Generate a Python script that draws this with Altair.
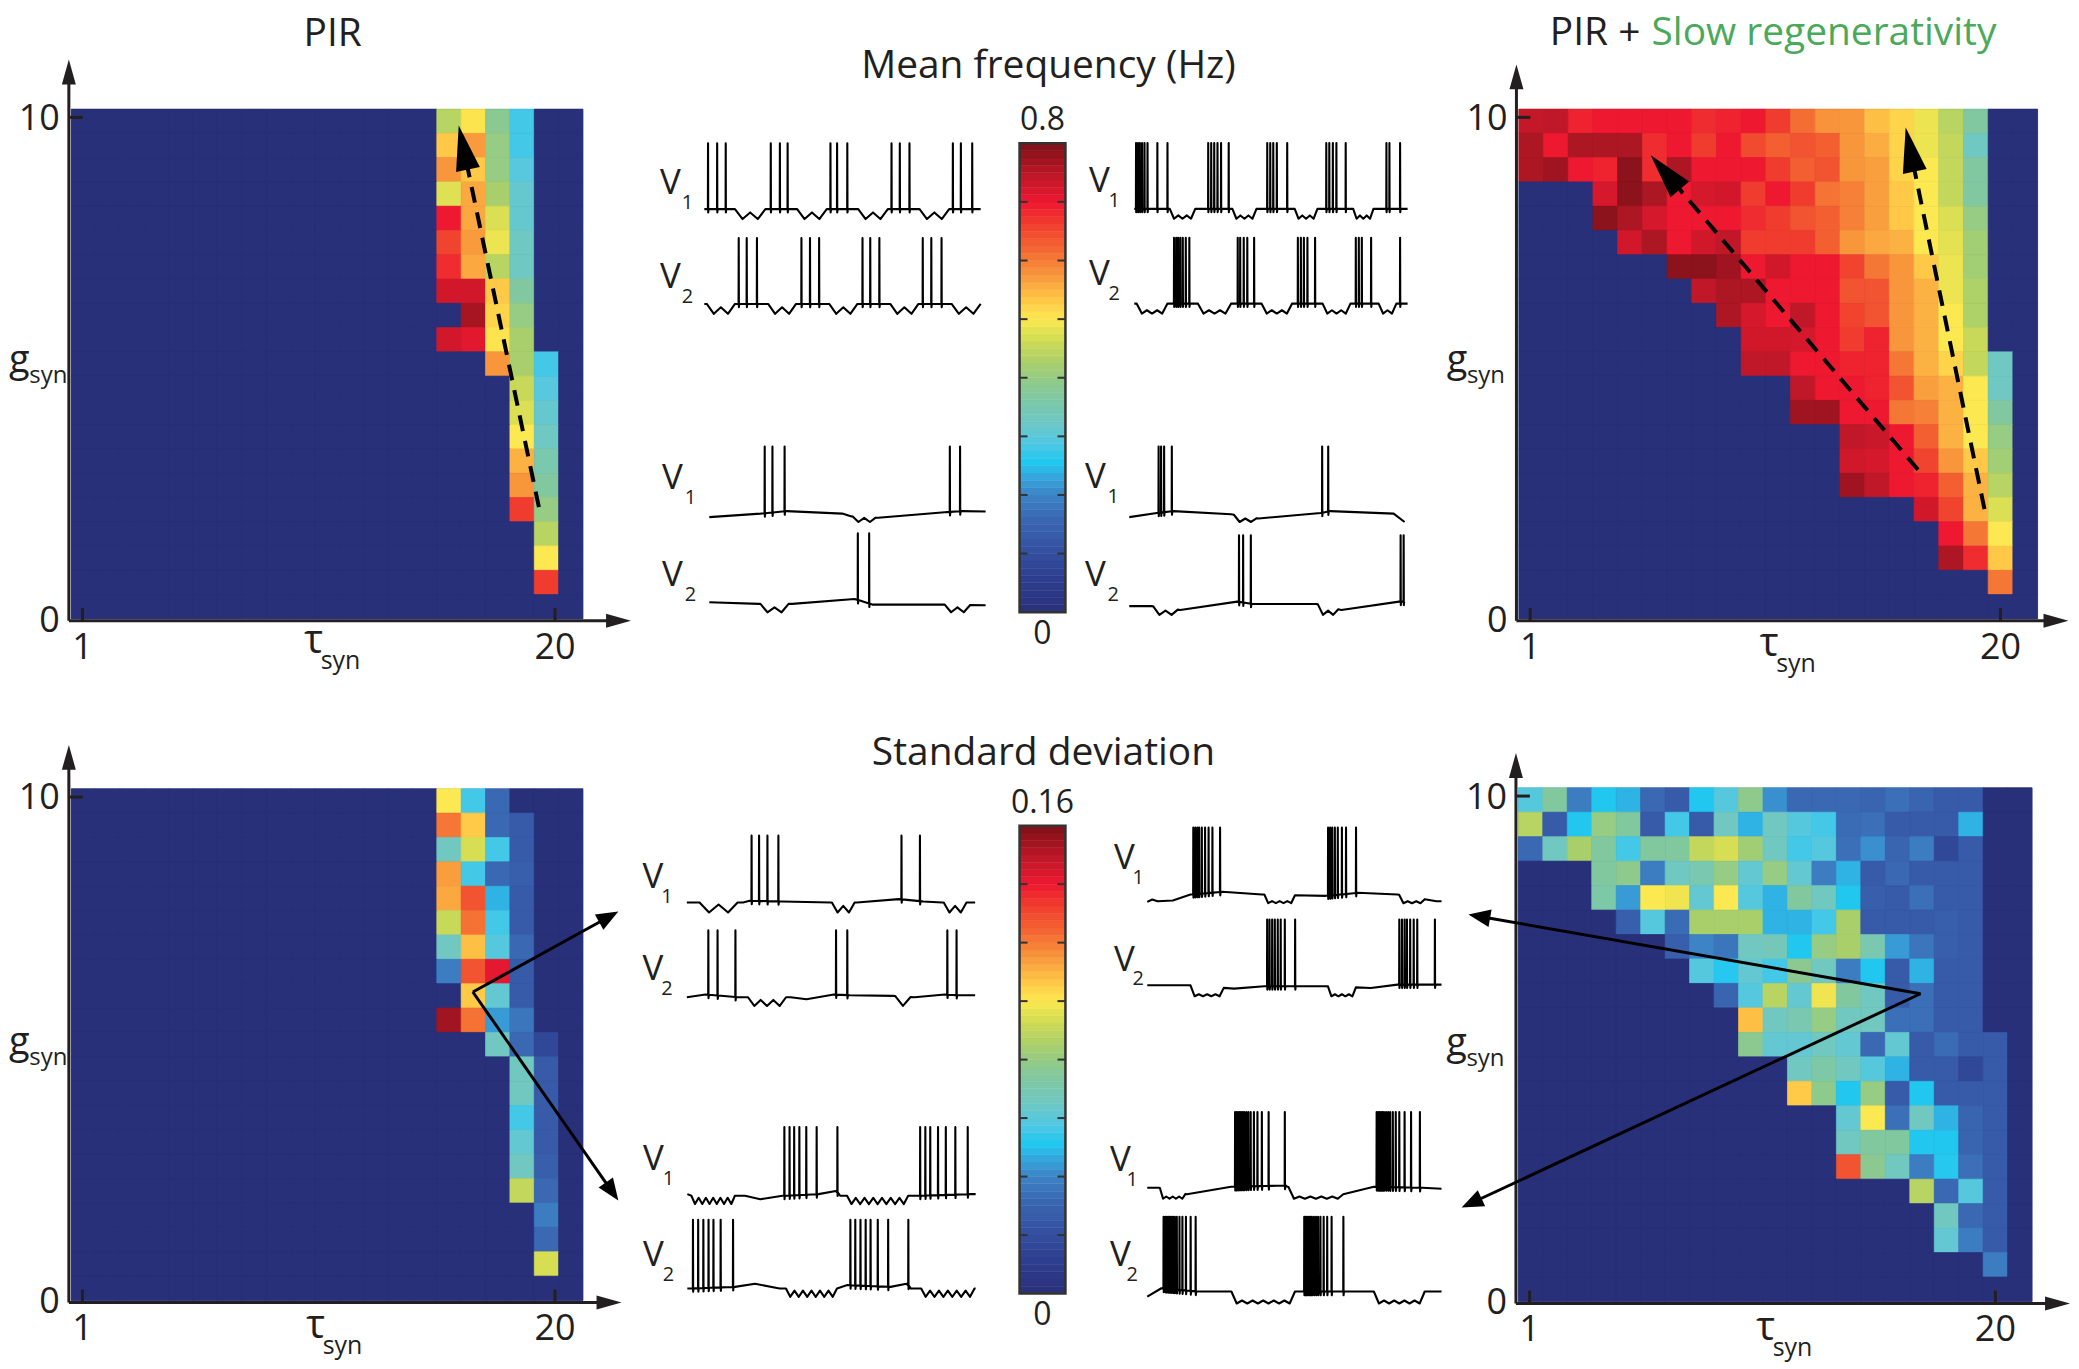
import math
import numpy as np
import pandas as pd
import altair as alt

FONT = "Open Sans"
INK = "#231f20"
GREEN = "#4aa95a"

# ---------------- colour map ----------------
CMAP_POS = [0.0, 0.07, 0.13, 0.20, 0.25, 0.29, 0.32, 0.36, 0.40, 0.47, 0.53,
            0.58, 0.625, 0.67, 0.72, 0.77, 0.83, 0.875, 0.93, 1.0]
CMAP_COL = ["#29307a", "#2e3e8e", "#3450a0", "#3a68b2", "#3c84c6", "#36a8de",
            "#20c8f0", "#50c8e4", "#6cc8c8", "#84c89a", "#a8cf6c", "#d0dc54",
            "#fce850", "#ffc446", "#f8963c", "#f46a32", "#f03c2e", "#ee1830",
            "#c01828", "#7e1018"]

TAU = list(range(1, 22))                    # tau_syn, columns
GSYN = [10 - 0.5 * k for k in range(21)]    # g_syn, rows from top (10) to bottom (0)
MEAN_MAX = 0.8
STD_MAX = 0.16

# heat maps: row index (0 = g 10) -> (first column index, values of the coloured run)
MEAN_PIR = {
    0: (15, [.44, .504, .384, .28]),
    1: (15, [.532, .572, .40, .28]),
    2: (15, [.576, .532, .40, .296]),
    3: (15, [.476, .56, .424, .312]),
    4: (15, [.70, .56, .472, .312]),
    5: (15, [.656, .572, .488, .328]),
    6: (15, [.68, .56, .44, .328]),
    7: (15, [.728, .728, .532, .368]),
    8: (15, [0, .764, .52, .40]),
    9: (15, [.728, .712, .504, .424]),
    10: (17, [.576, .424, .28]),
    11: (18, [.456, .296]),
    12: (18, [.472, .312]),
    13: (18, [.50, .328]),
    14: (18, [.552, .352]),
    15: (18, [.576, .368]),
    16: (18, [.664, .40]),
    17: (19, [.44]),
    18: (19, [.50]),
    19: (19, [.664]),
}
MEAN_SLOW = {
    0: (0, [.74, .744, .69, .70, .70, .70, .70, .68, .69, .70, .664, .612, .58, .576, .54, .52, .488, .44, .368]),
    1: (0, [.76, .70, .76, .76, .76, .68, .70, .664, .70, .648, .628, .64, .628, .576, .556, .52, .488, .45, .328]),
    2: (0, [.76, .772, .70, .69, .788, .68, .76, .70, .70, .70, .664, .628, .64, .576, .568, .52, .50, .45, .368]),
    3: (3, [.724, .788, .76, .70, .724, .728, .664, .70, .664, .608, .596, .568, .532, .50, .45, .368]),
    4: (3, [.788, .76, .724, .70, .70, .70, .68, .664, .64, .628, .596, .568, .532, .50, .472, .40]),
    5: (4, [.728, .76, .70, .728, .744, .664, .664, .664, .628, .576, .56, .552, .50, .48, .416]),
    6: (6, [.788, .788, .772, .70, .728, .70, .70, .656, .604, .576, .532, .488, .416]),
    7: (7, [.744, .76, .76, .70, .70, .70, .64, .64, .576, .552, .488, .43]),
    8: (8, [.76, .724, .70, .744, .70, .656, .64, .576, .552, .50, .43]),
    9: (9, [.728, .728, .724, .70, .664, .69, .576, .552, .50, .456]),
    10: (9, [.744, .744, .70, .70, .69, .69, .604, .552, .52, .45, .328]),
    11: (11, [.744, .70, .70, .69, .64, .568, .552, .50, .328]),
    12: (11, [.772, .772, .70, .70, .604, .596, .552, .50, .368]),
    13: (13, [.744, .735, .70, .628, .552, .50, .40]),
    14: (13, [.728, .724, .70, .656, .576, .532, .416]),
    15: (13, [.772, .744, .70, .69, .628, .552, .44]),
    16: (16, [.728, .656, .552, .472]),
    17: (17, [.70, .604, .50]),
    18: (17, [.76, .68, .532]),
    19: (19, [.604]),
}
STD_PIR = {
    0: (15, [.10, .056, .032]),
    1: (15, [.121, .106, .032, .026]),
    2: (15, [.066, .094, .056, .026]),
    3: (15, [.114, .056, .032, .028]),
    4: (15, [.112, .128, .048, .026]),
    5: (15, [.091, .122, .056, .026]),
    6: (15, [.066, .108, .059, .032]),
    7: (15, [.038, .128, .142, .026]),
    8: (15, [0, .106, .062, .026]),
    9: (15, [.154, .122, .044, .036]),
    10: (17, [.066, .032, .016]),
    11: (18, [.066, .026]),
    12: (18, [.066, .026]),
    13: (18, [.056, .026]),
    14: (18, [.062, .026]),
    15: (18, [.066, .028]),
    16: (18, [.09, .032]),
    17: (19, [.038]),
    18: (19, [.032]),
    19: (19, [.094]),
}
STD_SLOW = {
    0: (0, [.059, .074, .038, .051, .048, .032, .026, .051, .059, .078, .042, .032, .032, .032, .03, .034, .03, .026, .026]),
    1: (0, [.088, .026, .051, .08, .074, .026, .056, .026, .066, .048, .066, .059, .056, .033, .034, .026, .026, .026, .048]),
    2: (0, [.032, .066, .085, .074, .056, .074, .074, .09, .094, .083, .066, .056, .059, .034, .042, .03, .038, .016, .026]),
    3: (3, [.074, .078, .038, .066, .07, .08, .062, .08, .062, .038, .048, .026, .032, .026, .026, .026]),
    4: (3, [.072, .044, .10, .098, .062, .10, .059, .048, .074, .066, .051, .028, .026, .034, .026, .026]),
    5: (4, [.028, .059, .033, .085, .085, .085, .048, .048, .056, .085, .026, .026, .026, .028, .026]),
    6: (6, [.028, .04, .036, .066, .068, .051, .08, .085, .07, .044, .036, .028, .026]),
    7: (7, [.059, .052, .062, .056, .077, .066, .038, .051, .026, .048, .026, .026]),
    8: (8, [.03, .059, .088, .062, .098, .074, .066, .026, .034, .026, .026]),
    9: (9, [.108, .066, .07, .08, .066, .066, .034, .034, .026, .026]),
    10: (9, [.077, .062, .062, .066, .062, .032, .062, .026, .033, .026, .026]),
    11: (11, [.066, .072, .066, .059, .048, .026, .026, .016, .026]),
    12: (11, [.106, .078, .051, .08, .026, .051, .026, .026, .026]),
    13: (13, [.062, .10, .034, .066, .048, .03, .026]),
    14: (13, [.066, .074, .074, .051, .051, .03, .026]),
    15: (13, [.128, .077, .066, .038, .052, .034, .026]),
    16: (16, [.088, .032, .059, .026]),
    17: (17, [.066, .032, .026]),
    18: (17, [.062, .038, .026]),
    19: (19, [.038]),
}

# ---------------- voltage traces (time 0..1000, spike peak = 1) ----------------
# dips: (start, end, number of troughs, trough level, crest level)
TRACE_A = {
    "V1": dict(spikes=[13, 46, 77, 240, 273, 301, 456, 480, 517, 677, 707, 742, 899, 928, 969],
               base=[(0, 0.0), (1000, 0.0)],
               dips=[(111, 221, 2, -0.15, -0.05), (336, 443, 2, -0.15, -0.05),
                     (557, 664, 2, -0.15, -0.05), (779, 886, 2, -0.15, -0.05)]),
    "V2": dict(spikes=[124, 153, 190, 351, 382, 415, 572, 600, 633, 790, 821, 858],
               base=[(0, 0.0), (1000, 0.0)],
               dips=[(9, 111, 2, -0.15, -0.05), (231, 332, 2, -0.15, -0.05), (452, 554, 2, -0.15, -0.05),
                     (673, 775, 2, -0.15, -0.05), (895, 1000, 2, -0.15, -0.05)]),
}
TRACE_B = {
    "V1": dict(spikes=[6, 13, 20, 28, 37, 48, 84, 121, 270, 281, 292, 304, 317, 345, 486, 497, 508, 521, 559,
                       702, 713, 726, 739, 773, 922, 933, 972],
               base=[(0, 0.0), (1000, 0.0)],
               dips=[(130, 223, 3, -0.15, -0.1), (359, 447, 3, -0.15, -0.1),
                     (587, 670, 3, -0.15, -0.1), (801, 875, 3, -0.15, -0.1)]),
    "V2": dict(spikes=[145, 153, 160, 168, 177, 188, 201, 378, 387, 400, 413, 438, 598, 609, 620, 633, 661,
                       810, 821, 832, 866, 972],
               base=[(0, 0.0), (1000, 0.0)],
               dips=[(9, 121, 3, -0.15, -0.1), (233, 354, 3, -0.15, -0.1), (466, 577, 3, -0.15, -0.1),
                     (689, 791, 3, -0.15, -0.1), (894, 959, 2, -0.15, -0.1)]),
}
TRACE_C = {
    "V1": dict(spikes=[200, 228, 272, 870, 907],
               base=[(0, -0.01), (185, 0.04), (280, 0.076), (481, 0.04), (515, 0.0), (611, -0.02),
                     (852, 0.06), (915, 0.076), (1000, 0.07)],
               dips=[(519, 602, 2, -0.08, -0.02)]),
    "V2": dict(spikes=[537, 578],
               base=[(0, 0.014), (180, -0.01), (300, -0.01), (525, 0.06), (590, -0.02), (845, -0.02),
                     (1000, -0.03)],
               dips=[(185, 287, 2, -0.13, -0.06), (852, 944, 2, -0.13, -0.06)]),
}
TRACE_D = {
    "V1": dict(spikes=[106, 115, 126, 154, 700, 722],
               base=[(0, -0.01), (100, 0.05), (160, 0.076), (370, 0.03), (470, -0.03), (695, 0.05),
                     (730, 0.076), (960, 0.04), (1000, -0.08)],
               dips=[(380, 463, 2, -0.08, -0.03)]),
    "V2": dict(spikes=[398, 413, 441, 985, 996],
               base=[(0, -0.015), (80, -0.015), (185, -0.07), (392, 0.05), (450, 0.015), (680, 0.015),
                     (770, -0.07), (980, 0.05), (1000, 0.05)],
               dips=[(87, 176, 2, -0.14, -0.08), (685, 759, 2, -0.14, -0.08)]),
}
TRACE_E = {
    "V1": dict(spikes=[224, 250, 279, 317, 744, 808],
               base=[(0, 0.0), (195, 0.0), (218, 0.025), (330, 0.015), (500, 0.0), (590, 0.0), (735, 0.05),
                     (820, 0.015), (885, 0.0), (1000, 0.0)],
               dips=[(44, 176, 2, -0.15, -0.03), (503, 582, 2, -0.15, -0.05), (891, 970, 2, -0.15, -0.05)]),
    "V2": dict(spikes=[74, 106, 168, 517, 556, 903, 935],
               base=[(0, 0.0), (65, 0.04), (175, 0.0), (360, 0.0), (415, -0.03), (510, 0.04), (565, 0.03),
                     (715, 0.02), (790, 0.0), (895, 0.04), (945, 0.03), (1000, 0.03)],
               dips=[(212, 344, 3, -0.13, -0.04), (723, 776, 1, -0.13, -0.13)]),
}
TRACE_F = {
    "V1": dict(spikes=[156, 163, 170, 176, 185, 196, 208, 221, 247, 614, 621, 628, 637, 647, 661, 675, 709],
               base=[(0, -0.11), (17, -0.075), (35, -0.1), (87, -0.09), (147, 0.0), (255, 0.04), (390, 0.0),
                     (606, -0.02), (715, 0.025), (850, 0.0), (983, -0.1), (1000, -0.1)],
               dips=[(398, 502, 4, -0.13, -0.1), (856, 943, 3, -0.13, -0.1)]),
    "V2": dict(spikes=[407, 415, 424, 433, 443, 453, 467, 502, 856, 865, 874, 882, 893, 905, 917, 977],
               base=[(0, 0.015), (140, 0.015), (295, -0.035), (398, 0.0), (510, 0.0), (605, 0.0),
                     (760, -0.025), (850, 0.025), (1000, 0.025)],
               dips=[(147, 260, 4, -0.15, -0.12), (614, 709, 4, -0.15, -0.12)]),
}
TRACE_G = {
    "V1": dict(spikes=[336, 354, 370, 388, 412, 448, 520, 807, 825, 842, 869, 896, 929, 972],
               base=[(0, 0.024), (14, 0.0), (165, 0.0), (200, 0.0), (253, -0.05), (330, 0.0), (455, 0.024),
                     (515, 0.07), (530, 0.0), (554, 0.0), (766, 0.0), (800, 0.0), (980, 0.024), (1000, 0.024)],
               dips=[(14, 165, 6, -0.12, -0.03), (554, 766, 7, -0.12, -0.03)]),
    "V2": dict(spikes=[19, 37, 55, 73, 90, 115, 158, 565, 582, 600, 618, 635, 660, 696, 766],
               base=[(0, 0.0), (165, 0.024), (235, 0.07), (320, 0.0), (342, 0.0), (519, 0.0), (555, 0.05),
                     (705, 0.024), (760, 0.07), (775, 0.0), (811, 0.0), (1000, 0.0)],
               dips=[(342, 519, 6, -0.12, -0.03), (811, 996, 6, -0.12, -0.03)]),
}
TRACE_H = {
    "V1": dict(spikes=[298, 303, 308, 313, 318, 324, 329, 336, 343, 351, 362, 374, 389, 412, 467,
                       779, 784, 789, 794, 799, 804, 811, 818, 825, 834, 844, 856, 874, 896, 926],
               base=[(0, -0.013), (40, -0.013), (135, -0.1), (285, 0.0), (470, 0.018), (476, 0.0),
                     (666, -0.1), (770, 0.0), (935, -0.013), (1000, -0.027)],
               dips=[(43, 130, 4, -0.16, -0.13), (480, 666, 5, -0.16, -0.13)]),
    "V2": dict(spikes=[55, 61, 66, 71, 76, 81, 87, 93, 100, 109, 119, 131, 147, 164,
                       533, 538, 543, 549, 554, 559, 566, 573, 580, 588, 599, 611, 626, 666],
               base=[(0, -0.067), (48, 0.044), (170, 0.0), (280, 0.0), (528, 0.0), (670, 0.0), (765, 0.0),
                     (969, 0.0), (1000, 0.0)],
               dips=[(286, 502, 6, -0.16, -0.12), (770, 943, 5, -0.16, -0.12)]),
}


# ---------------- helpers ----------------
def color_scale(vmax):
    return alt.Scale(domain=[p * vmax for p in CMAP_POS], range=CMAP_COL, interpolate="rgb")


def grid_frame(runs):
    rows = []
    for r, g in enumerate(GSYN):
        start, vals = runs.get(r, (0, []))
        for c, tau in enumerate(TAU):
            v = vals[c - start] if start <= c < start + len(vals) else 0.0
            rows.append(dict(x0=tau - 0.5, x1=tau + 0.5, y0=g - 0.25, y1=g + 0.25, v=v))
    return pd.DataFrame(rows)


def text(t, x, y, size, color=INK, align="center", baseline="alphabetic"):
    return alt.Chart(pd.DataFrame({"t": [t]})).mark_text(
        font=FONT, fontSize=size, color=color, align=align, baseline=baseline
    ).encode(x=alt.value(x), y=alt.value(y), text="t:N")


def head_shape(half):
    return "M0,0L%.3f,1L%.3f,1Z" % (half, -half)


def arrow_geom(tail, tip, L, kx, ky):
    dx = (tip[0] - tail[0]) * kx
    dy = -(tip[1] - tail[1]) * ky
    d = math.hypot(dx, dy)
    ux, uy = dx / d, dy / d
    ang = math.degrees(math.atan2(ux, -uy)) % 360
    s = 0.6 * L
    stop = (tip[0] - s * ux / kx, tip[1] + s * uy / ky)
    return stop, ang


def heat_layers(runs, vmax, px, py, W, H, x20, ytip, xtip, dashed=(), solid=()):
    kx = W / 21.0
    ky = H / 10.5
    xs = alt.Scale(domain=[0.5, 21.5], range=[px, px + W], nice=False, zero=False)
    ys = alt.Scale(domain=[-0.25, 10.25], range=[py + H, py], nice=False, zero=False)
    X = lambda f: alt.X(f, scale=xs, axis=None)
    Y = lambda f: alt.Y(f, scale=ys, axis=None)
    cs = color_scale(vmax)
    back = alt.Chart(pd.DataFrame({"x0": [0.5], "x1": [21.5], "y0": [-0.25], "y1": [10.25]})).mark_rect(
        color=CMAP_COL[0]).encode(x=X("x0:Q"), x2="x1:Q", y=Y("y0:Q"), y2="y1:Q")
    out = [back, alt.Chart(grid_frame(runs)).mark_rect(strokeWidth=0.7).encode(
        x=X("x0:Q"), x2="x1:Q", y=Y("y0:Q"), y2="y1:Q",
        color=alt.Color("v:Q", scale=cs, legend=None),
        stroke=alt.Stroke("v:Q", scale=cs, legend=None))]
    X0 = 0.5 - 2.4 / kx
    Y0 = -0.25 - 2.0 / ky
    segs = pd.DataFrame([
        dict(x=X0, y=Y0, x2=X0, y2=ytip - 12 / ky),
        dict(x=X0, y=Y0, x2=xtip - 12 / kx, y2=Y0),
        dict(x=0.96, y=Y0, x2=0.96, y2=Y0 + 13 / ky),
        dict(x=x20, y=Y0, x2=x20, y2=Y0 + 13 / ky),
        dict(x=X0, y=10.08, x2=X0 + 14 / kx, y2=10.08),
    ])
    out.append(alt.Chart(segs).mark_rule(color=INK, strokeWidth=3).encode(
        x=X("x:Q"), y=Y("y:Q"), x2="x2:Q", y2="y2:Q"))
    out.append(alt.Chart(pd.DataFrame([dict(x=X0, y=ytip, a=0.0), dict(x=xtip, y=Y0, a=90.0)])).mark_point(
        shape=head_shape(0.28), size=2500, filled=True, color=INK, opacity=1, strokeWidth=0).encode(
        x=X("x:Q"), y=Y("y:Q"), angle=alt.Angle("a:Q", scale=None)))
    # tick labels
    xl = pd.DataFrame({"x": [0.96, x20], "y": [Y0, Y0], "t": ["1", "20"]})
    out.append(alt.Chart(xl).mark_text(font=FONT, fontSize=36, color=INK, baseline="top", dy=10).encode(
        x=X("x:Q"), y=Y("y:Q"), text="t:N"))
    yl = pd.DataFrame({"x": [X0, X0], "y": [10.05, Y0], "t": ["10", "0"]})
    out.append(alt.Chart(yl).mark_text(font=FONT, fontSize=36, color=INK, align="right", baseline="middle",
                                       dx=-9).encode(x=X("x:Q"), y=Y("y:Q"), text="t:N"))
    for arrows, L, half, sw, dash in ((dashed, 45, 0.27, 4, [16, 10]), (solid, 22, 0.4, 3, None)):
        if not arrows:
            continue
        lines, heads = [], []
        for tail, tip in arrows:
            stop, ang = arrow_geom(tail, tip, L, kx, ky)
            lines.append(dict(x=tail[0], y=tail[1], x2=stop[0], y2=stop[1]))
            heads.append(dict(x=tip[0], y=tip[1], a=ang))
        mk = dict(color="black", strokeWidth=sw, strokeCap="butt")
        if dash:
            mk["strokeDash"] = dash
        out.append(alt.Chart(pd.DataFrame(lines)).mark_rule(**mk).encode(
            x=X("x:Q"), y=Y("y:Q"), x2="x2:Q", y2="y2:Q"))
        out.append(alt.Chart(pd.DataFrame(heads)).mark_point(
            shape=head_shape(half), size=(2 * L) ** 2, filled=True, color="black", opacity=1,
            strokeWidth=0).encode(x=X("x:Q"), y=Y("y:Q"), angle=alt.Angle("a:Q", scale=None)))
    return out


def axis_titles(px, py, gx, gy, tx, ty):
    return [
        text("g", px + gx, py + gy, 38),
        text("syn", px + gx + 10, py + gy + 11, 24, align="left"),
        text("τ", px + tx, py + ty, 40),
        text("syn", px + tx + 7, py + ty + 16, 25, align="left"),
    ]


def trace_points(spec, offset):
    base = sorted(spec["base"])
    bt = [p[0] for p in base]
    bv = [p[1] for p in base]
    dips = spec.get("dips", [])
    pts = [p for p in base if not any(a < p[0] < b for (a, b, *_r) in dips)]
    for (a, b, n, lo, hi) in dips:
        w = b - a
        pts.append((a, float(np.interp(a, bt, bv))))
        for k in range(n):
            pts.append((a + w * (k + 0.5) / n, lo))
            if k < n - 1:
                pts.append((a + w * (k + 1) / n, hi))
        pts.append((b, float(np.interp(b, bt, bv))))
    pts.sort()
    pt = [p[0] for p in pts]
    pv = [p[1] for p in pts]
    spikes = spec["spikes"]
    out = [p for p in pts if not any(s - 0.3 <= p[0] <= s + 2.6 for s in spikes)]
    for s in spikes:
        b0 = float(np.interp(s, pt, pv))
        out += [(s, b0), (s + 0.5, 1.0), (s + 1.1, b0 - 0.05), (s + 2.4, b0)]
    out.sort()
    return [(t, v + offset) for t, v in out]


def trace_layers(group, px, py, W, amp, d, vx, sx, ly1, ly2):
    H = (d + 1.25) * amp
    xs = alt.Scale(domain=[0, 1000], range=[px, px + W], nice=False, zero=False)
    ys = alt.Scale(domain=[-0.25, d + 1.0], range=[py + H, py], nice=False, zero=False)
    rows = []
    for name, off in (("V1", d), ("V2", 0.0)):
        for i, (t, v) in enumerate(trace_points(group[name], off)):
            rows.append(dict(trace=name, i=i, t=t, v=v))
    line = alt.Chart(pd.DataFrame(rows)).mark_line(
        color="black", strokeWidth=2.1, strokeJoin="round").encode(
        x=alt.X("t:Q", scale=xs, axis=None), y=alt.Y("v:Q", scale=ys, axis=None),
        detail="trace:N", order="i:Q")
    lab = pd.DataFrame({"ly": [d + ly1, ly2], "lab": ["V", "V"], "sub": ["1", "2"]})
    big = alt.Chart(lab).mark_text(font=FONT, fontSize=35, color=INK, align="center", baseline="middle").encode(
        x=alt.value(px + vx), y=alt.Y("ly:Q", scale=ys, axis=None), text="lab:N")
    small = alt.Chart(lab).mark_text(font=FONT, fontSize=20, color=INK, align="center", baseline="middle",
                                     dy=20).encode(
        x=alt.value(px + sx), y=alt.Y("ly:Q", scale=ys, axis=None), text="sub:N")
    return [line, big, small]


def colorbar_layers(vmax, px, py, H, top_label, title, tx, ty):
    W = 46
    edges = np.linspace(0.0, vmax, 65)
    bands = pd.DataFrame({"lo": edges[:-1], "hi": edges[1:], "v": (edges[:-1] + edges[1:]) / 2})
    ys = alt.Scale(domain=[0, vmax], range=[py + H, py], nice=False, zero=False)
    cs = color_scale(vmax)
    b = alt.Chart(bands).mark_rect(strokeWidth=0.5).encode(
        x=alt.value(px), x2=alt.value(px + W), y=alt.Y("lo:Q", scale=ys, axis=None), y2="hi:Q",
        color=alt.Color("v:Q", scale=cs, legend=None), stroke=alt.Stroke("v:Q", scale=cs, legend=None))
    frame = alt.Chart(pd.DataFrame({"lo": [0.0], "hi": [vmax]})).mark_rect(
        fillOpacity=0, stroke="#333333", strokeWidth=2.5).encode(
        x=alt.value(px), x2=alt.value(px + W), y=alt.Y("lo:Q", scale=ys, axis=None), y2="hi:Q")
    tk = pd.DataFrame({"t": [vmax * k / 8 for k in range(1, 8)]})
    tl = alt.Chart(tk).mark_rule(color="#333333", strokeWidth=2).encode(
        x=alt.value(px), x2=alt.value(px + 8), y=alt.Y("t:Q", scale=ys, axis=None))
    tr = alt.Chart(tk).mark_rule(color="#333333", strokeWidth=2).encode(
        x=alt.value(px + W - 8), x2=alt.value(px + W), y=alt.Y("t:Q", scale=ys, axis=None))
    return [b, frame, tl, tr,
            text(top_label, px + W / 2, py - 13, 32),
            text("0", px + W / 2, py + H + 32, 32),
            text(title, px + tx, py + ty, 39)]


# ---------------- assemble (positions in page pixels, minus the 8 px margin) ----------------
L = []
# top-left: PIR, mean frequency
L += heat_layers(MEAN_PIR, MEAN_MAX, 63.4, 99.7, 513, 511, 20.35, 11.27, 23.47,
                 dashed=[((19.69, 2.05), (16.4, 9.91))])
L += [text("PIR", 63.4 + 262, 99.7 - 63, 39)] + axis_titles(63.4, 99.7, -52, 264, 243, 545)
# top-right: PIR + slow regenerativity, mean frequency
L += heat_layers(MEAN_SLOW, MEAN_MAX, 1514.5, 99.7, 520, 511, 20.0, 11.17, 22.75,
                 dashed=[((16.66, 2.82), (5.84, 9.3)), ((19.35, 2.01), (16.16, 9.87))])
L += [text("PIR + ", 1514.5 + 31, 99.7 - 64, 39, align="left"),
      text("Slow regenerativity", 1514.5 + 133, 99.7 - 64, 39, color=GREEN, align="left")]
L += axis_titles(1514.5, 99.7, -62, 264, 251, 548)
# bottom-left: PIR, standard deviation
L += heat_layers(STD_PIR, STD_MAX, 63.4, 781, 513, 513, 20.35, 11.15, 23.08,
                 solid=[((16.98, 6.08), (22.95, 7.73)), ((16.98, 6.08), (22.95, 1.8))])
L += axis_titles(63.4, 781, -52, 266, 245, 551)
# bottom-right: PIR + slow regenerativity, standard deviation
L += heat_layers(STD_SLOW, STD_MAX, 1514, 780, 515, 515, 20.0, 10.96, 23.05,
                 solid=[((16.94, 6.04), (-1.54, 7.66)), ((16.94, 6.04), (-1.82, 1.67))])
L += axis_titles(1514, 780, -62, 268, 248, 554)

# colour bars
L += colorbar_layers(MEAN_MAX, 1014, 134, 470, "0.8", "Mean frequency (Hz)", 29, -65)
L += colorbar_layers(STD_MAX, 1014, 818, 469, "0.16", "Standard deviation", 24, -61)

# voltage traces
L += trace_layers(TRACE_A, 698, 134, 277, 66, 1.44, -34, -17, 0.40, 0.41)
L += trace_layers(TRACE_B, 1129, 133.7, 274, 66, 1.44, -35, -20, 0.42, 0.45)
L += trace_layers(TRACE_C, 703, 438, 277, 70, 1.243, -37, -19, 0.55, 0.41)
L += trace_layers(TRACE_D, 1124, 438, 276, 70, 1.27, -34, -16, 0.56, 0.43)
L += trace_layers(TRACE_E, 680.5, 828, 289, 67, 1.418, -34, -20, 0.38, 0.42)
L += trace_layers(TRACE_F, 1142, 820, 295, 67, 1.373, -23, -9, 0.55, 0.40)
L += trace_layers(TRACE_G, 681, 1120, 289, 69, 1.348, -34, -19, 0.54, 0.48)
L += trace_layers(TRACE_H, 1142, 1105, 295, 75, 1.40, -27, -15, 0.36, 0.49)

chart = alt.layer(*L).resolve_scale(
    x="independent", y="independent", color="independent", stroke="independent"
).properties(width=2060, height=1350, padding=0).configure_view(strokeWidth=0)

chart.save("out.html", embed_options={"renderer": "svg", "actions": False})
